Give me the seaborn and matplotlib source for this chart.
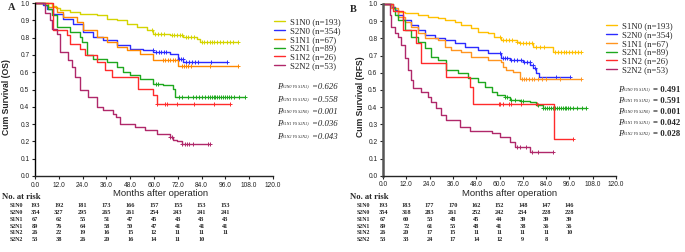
import numpy as np
import matplotlib
matplotlib.use('Agg')
import matplotlib.pyplot as plt
import matplotlib.transforms as mtransforms
from matplotlib.lines import Line2D
import seaborn as sns

# ---- data ----
groups = ['S1N0', 'S2N0', 'S1N1', 'S2N1', 'S1N2', 'S2N2']
group_n = [193, 354, 67, 89, 26, 53]

# Panel A: overall survival (step curves: time in months, survival)
os_t = {
    'S1N0': [0, 8.4, 10.5, 12.6, 17.6, 22.7, 31.1, 36.2, 41.2, 46.2, 51.3, 56.3, 59.7, 68.1, 74.8, 81.5, 83.2, 102.5],
    'S2N0': [0, 4.2, 5.9, 9.2, 14.3, 19.3, 24.4, 29.4, 34.5, 41.2, 48, 54.7, 59.7, 68, 72, 74.8, 96.7],
    'S1N1': [0, 6.7, 10.9, 14.3, 21, 24.4, 31.1, 36.2, 41.2, 46.2, 53, 59.7, 72.3, 102.5],
    'S2N1': [0, 5, 6.7, 8.4, 10.9, 17.6, 22.7, 23.5, 26, 29.4, 36.2, 41.2, 44.6, 48, 53, 59.7, 64.7, 69.7, 70.6, 105.9],
    'S1N2': [0, 9.2, 16, 17.6, 22.7, 25.2, 31.1, 35.3, 38.7, 52.1, 59.7, 61.4, 98.3],
    'S2N2': [0, 5, 7.6, 8.4, 10.9, 12.6, 16.8, 18.5, 20.2, 22.7, 26.9, 31.1, 34.5, 39.5, 40.8, 42.9, 50.4, 55.5, 61.4, 68.1, 69.7, 71.4, 74, 88.2],
}
os_s = {
    'S1N0': [1.0, 0.985, 0.97, 0.958, 0.948, 0.939, 0.929, 0.91, 0.90, 0.881, 0.862, 0.842, 0.823, 0.813, 0.804, 0.794, 0.775, 0.775],
    'S2N0': [1.0, 0.987, 0.967, 0.939, 0.91, 0.881, 0.833, 0.804, 0.784, 0.755, 0.736, 0.727, 0.717, 0.707, 0.678, 0.659, 0.659],
    'S1N1': [1.0, 0.975, 0.948, 0.92, 0.89, 0.842, 0.804, 0.775, 0.746, 0.727, 0.707, 0.669, 0.637, 0.637],
    'S2N1': [1.0, 0.987, 0.967, 0.929, 0.862, 0.833, 0.804, 0.775, 0.698, 0.679, 0.659, 0.63, 0.601, 0.582, 0.563, 0.534, 0.524, 0.505, 0.457, 0.457],
    'S1N2': [1.0, 0.842, 0.813, 0.765, 0.736, 0.698, 0.659, 0.611, 0.572, 0.505, 0.466, 0.418, 0.418],
    'S2N2': [1.0, 0.94, 0.9, 0.852, 0.823, 0.717, 0.669, 0.63, 0.572, 0.495, 0.457, 0.399, 0.38, 0.36, 0.341, 0.303, 0.283, 0.264, 0.245, 0.225, 0.21, 0.2, 0.183, 0.183],
}
os_censor = {
    'S1N0': [59, 60.5, 62, 63.5, 65, 69, 70, 71.5, 73, 74, 76, 77, 78.5, 80, 84, 85, 86.5, 88, 89, 90.5, 92, 93.5, 95, 97, 98.5, 100, 102.5],
    'S2N0': [59.5, 61, 62.5, 63.5, 65, 66, 72.5, 73.5, 74.5, 76, 77.5, 79, 80.5, 82, 88.5, 96.7],
    'S1N1': [64.5, 65.5, 67, 68, 69.5, 70.5, 74, 75, 76, 77, 78.5, 88.3, 102.5],
    'S2N1': [61, 62, 72.5, 74, 77, 79.5, 81, 82.5, 84, 85.5, 87, 88, 89, 90, 91, 92, 93, 94, 95, 96, 97, 98, 99, 100.5, 103, 105.9],
    'S1N2': [61.4, 65.6, 66.4, 71.4, 80.2, 90.3, 98.3],
    'S2N2': [68.1, 69, 74.3, 75.6, 76.8, 77.7, 79.7, 87, 88.2],
}

# Panel B: recurrence-free survival
rfs_t = {
    'S1N0': [0, 4.3, 6, 7.7, 11.1, 18, 23.1, 28.3, 31.7, 36.9, 40.3, 45.4, 48.9, 54, 57.4, 60.9, 68.8, 70.5, 77.3, 87.6, 102],
    'S2N0': [0, 4.3, 6, 7.7, 10.3, 14.6, 18, 21.4, 26.6, 31.7, 36.9, 42, 48.9, 54, 60.9, 65.3, 72.2, 75.6, 77.3, 79, 80.4, 96.2],
    'S1N1': [0, 4.3, 7.7, 11.1, 14.6, 18, 21.4, 28.3, 31.7, 35.1, 40.3, 45.4, 54, 60.9, 61.9, 63.6, 67, 70.5, 102],
    'S2N1': [0, 5.1, 6, 7.7, 11.1, 14.6, 18, 21.4, 24.9, 28.3, 32.6, 38.6, 43.7, 48.9, 52.3, 55.9, 58.5, 62.8, 65.3, 70.5, 75.6, 79, 82.5, 104.8],
    'S1N2': [0, 5.1, 10.3, 17.1, 19.7, 32.6, 44.6, 46.1, 88, 97.9],
    'S2N2': [0, 3.4, 4.3, 6, 7.7, 9.4, 11.1, 12.9, 14.6, 15.4, 19.7, 23.1, 24.9, 27.4, 30, 32.6, 39.6, 44.8, 55.9, 60.2, 65.3, 67.9, 75.6, 87.6],
}
rfs_s = {
    'S1N0': [1.0, 0.984, 0.965, 0.955, 0.946, 0.936, 0.926, 0.917, 0.907, 0.897, 0.878, 0.858, 0.839, 0.829, 0.81, 0.79, 0.781, 0.771, 0.751, 0.722, 0.722],
    'S2N0': [1.0, 0.985, 0.965, 0.936, 0.907, 0.878, 0.849, 0.82, 0.8, 0.79, 0.771, 0.751, 0.732, 0.713, 0.683, 0.674, 0.664, 0.645, 0.625, 0.596, 0.573, 0.573],
    'S1N1': [1.0, 0.975, 0.926, 0.897, 0.868, 0.829, 0.8, 0.79, 0.751, 0.732, 0.722, 0.693, 0.674, 0.664, 0.635, 0.616, 0.606, 0.563, 0.563],
    'S2N1': [1.0, 0.975, 0.936, 0.907, 0.849, 0.81, 0.781, 0.742, 0.693, 0.674, 0.616, 0.596, 0.567, 0.548, 0.518, 0.49, 0.47, 0.46, 0.44, 0.435, 0.427, 0.41, 0.392, 0.392],
    'S1N2': [1.0, 0.962, 0.849, 0.771, 0.655, 0.577, 0.518, 0.42, 0.212, 0.212],
    'S2N2': [1.0, 0.936, 0.868, 0.829, 0.81, 0.761, 0.683, 0.616, 0.557, 0.509, 0.489, 0.46, 0.431, 0.392, 0.353, 0.324, 0.285, 0.262, 0.247, 0.227, 0.198, 0.169, 0.14, 0.14],
}
rfs_censor = {
    'S1N0': [60.5, 62, 63.5, 65, 66.5, 69, 70.5, 72, 73.5, 75, 76.5, 79, 81, 83, 88.5, 90, 91.5, 93, 94.5, 96, 97.5, 99, 100.5, 102],
    'S2N0': [60.5, 62, 63, 64, 66, 67.5, 69, 71, 72.5, 74, 75.5, 77, 78.5, 89.3, 96.2],
    'S1N1': [71.5, 72.5, 73.5, 75, 76.5, 78, 80, 82, 84, 91, 102],
    'S2N1': [63, 64, 66, 68, 71, 72, 80, 82.5, 83.5, 84.5, 85.5, 86.5, 87.5, 88.5, 89.5, 90.5, 91.5, 92.5, 93.5, 94.5, 95.5, 96.5, 98, 100, 102.5, 104.8],
    'S1N2': [59.8, 60.5, 61.6, 65, 65.7, 71.3, 79.4, 97.9],
    'S2N2': [68.8, 70.5, 73.9, 76.5, 79.9, 87.6],
}

# numbers at risk
risk_months = [0, 12, 24, 36, 48, 60, 72, 84, 96]
os_risk = {
    'S1N0': [193, 192, 181, 173, 166, 157, 155, 153, 153],
    'S2N0': [354, 327, 295, 265, 261, 254, 243, 241, 241],
    'S1N1': [67, 62, 55, 51, 47, 45, 43, 43, 43],
    'S2N1': [89, 76, 64, 58, 50, 47, 41, 41, 41],
    'S1N2': [26, 22, 19, 16, 15, 12, 11, 11, 11],
    'S2N2': [53, 38, 26, 20, 16, 14, 11, 10],
}
rfs_risk = {
    'S1N0': [193, 183, 177, 170, 162, 152, 148, 147, 146],
    'S2N0': [354, 318, 283, 261, 252, 242, 234, 228, 228],
    'S1N1': [67, 60, 53, 48, 45, 44, 39, 39, 39],
    'S2N1': [89, 72, 61, 55, 48, 41, 38, 36, 36],
    'S1N2': [26, 20, 17, 15, 11, 11, 11, 11, 10],
    'S2N2': [53, 33, 24, 17, 14, 12, 9, 8],
}

p_pairs = ['S2N0 VS S1N1', 'S2N1 VS S1N2', 'S1N0 VS S2N0', 'S1N1 VS S2N1', 'S1N2 VS S2N2']
os_p = ['0.626', '0.558', '0.001', '0.036', '0.043']
rfs_p = ['0.491', '0.591', '0.001', '0.042', '0.028']

colors_a = ['#d4d400', '#2b2bff', '#ff8800', '#1ea81e', '#ff2b2b', '#b0286a']
colors_b = ['#ffc000', '#2b2bff', '#ff9520', '#1ea81e', '#ff2b2b', '#b0286a']

# ---- style ----
sns.set_style('ticks')
plt.rcParams['font.family'] = ['Liberation Sans', 'DejaVu Sans']

W, H = 685, 252
fig = plt.figure(figsize=(W / 100, H / 100), dpi=100)


def fx(px):
    return px / W


def fy(py):
    return 1 - py / H


def draw_panel(ax, times, surv, censor, colors, thick=False):
    for g, c in zip(groups, colors):
        t = np.array(times[g])
        s = np.array(surv[g])
        sns.lineplot(x=t, y=s, ax=ax, color=c, lw=1.0, drawstyle='steps-post',
                     estimator=None, legend=False)
        ct = np.array(censor[g])
        cs = s[np.searchsorted(t, ct, side='right') - 1]
        ax.plot(ct, cs, ls='none', marker='+', ms=3.2, mew=0.7, color=c)
    for ln in ax.lines:
        ln.set_clip_on(False)
    ax.set_xlim(0, 120)
    ax.set_ylim(0, 1.0)
    ax.set_xticks(np.arange(0, 121, 12))
    ax.set_xticklabels([f'{v:.1f}' for v in np.arange(0, 121, 12)])
    ax.set_yticks(np.arange(0, 1.01, 0.1))
    ax.set_yticklabels([f'{v:.1f}' for v in np.arange(0, 1.01, 0.1)])
    ax.tick_params(labelsize=4.8, length=2.5, width=0.8, pad=1.5, colors='#222222')
    ax.set_xlabel('')
    ax.set_ylabel('')
    sns.despine(ax=ax)
    lw = 1.8 if thick else 1.0
    col = '#555555' if thick else 'black'
    ax.spines['left'].set_linewidth(lw)
    ax.spines['left'].set_color(col)
    ax.spines['bottom'].set_linewidth(1.0)


axA = fig.add_axes([fx(35), fy(176), fx(238), 173 / H])
axB = fig.add_axes([fx(383), fy(175.7), fx(233), 171.7 / H])

draw_panel(axA, os_t, os_s, os_censor, colors_a)
draw_panel(axB, rfs_t, rfs_s, rfs_censor, colors_b, thick=True)

# panel letters
fig.text(fx(8), fy(8), 'A', fontsize=7.5, fontweight='bold', family='Liberation Serif', va='center')
fig.text(fx(350), fy(10), 'B', fontsize=7.5, fontweight='bold', family='Liberation Serif', va='center')

# axis titles
fig.text(fx(7), fy(97), 'Cum Survival (OS)', rotation=90, fontsize=6.2, fontweight='bold',
         ha='center', va='center')
fig.text(fx(361), fy(97), 'Cum Survival (RFS)', rotation=90, fontsize=6.2, fontweight='bold',
         ha='center', va='center')
fig.text(fx(161), fy(193), 'Months after operation', fontsize=6.8, ha='center', va='center')
fig.text(fx(510), fy(193), 'Months after operation', fontsize=6.8, ha='center', va='center')

# legends
for colors, anchor in [(colors_a, (fx(274), fy(18))), (colors_b, (fx(606), fy(22)))]:
    handles = [Line2D([], [], color=c, lw=1.0) for c in colors]
    labels = [f'{g} (n={n})' for g, n in zip(groups, group_n)]
    fig.legend(handles, labels, loc='upper left', bbox_to_anchor=anchor, frameon=False,
               prop={'family': 'Liberation Serif', 'size': 6.3}, handlelength=1.3,
               handletextpad=0.5, labelspacing=0.08, borderpad=0, borderaxespad=0)


# p-values: italic P, tiny subscript, then the value
def p_label(x, y, pair, value, weight, style, eq):
    serif = 'Liberation Serif'
    fig.text(fx(x), fy(y), 'P', fontsize=6.5, style='italic', family=serif,
             va='baseline')
    fig.text(fx(x + 4), fy(y - 2), f'({pair})', fontsize=3.0, style='italic',
             family=serif, va='baseline')
    fig.text(fx(x + 35), fy(y), eq + value, fontsize=6.3, style=style, fontweight=weight,
             family=serif, va='baseline')


p_y_a = [89, 102, 114, 126, 139]
p_y_b = [92, 103, 114, 125, 136]
for pair, p, y in zip(p_pairs, os_p, p_y_a):
    p_label(277, y, pair, p, 'normal', 'italic', '=')
for pair, p, y in zip(p_pairs, rfs_p, p_y_b):
    p_label(618, y, pair, p, 'bold', 'normal', '= ')

# risk tables
row_y = [205.7, 212.7, 219.4, 226.2, 233, 239.8]
for ax, risk, head_x, lab_x in [(axA, os_risk, 2, 10), (axB, rfs_risk, 350, 357)]:
    tr = mtransforms.blended_transform_factory(ax.transData, fig.transFigure)
    fig.text(fx(head_x), fy(197), 'No. at risk', fontsize=6.2, fontweight='bold',
             family='Liberation Serif', va='center')
    for g, y in zip(groups, row_y):
        fig.text(fx(lab_x), fy(y), g, fontsize=4.2, fontweight='bold',
                 family='Liberation Serif', va='center')
        for m, v in zip(risk_months, risk[g]):
            ax.text(m, fy(y), str(v), transform=tr, fontsize=4.5, fontweight='bold',
                    family='Liberation Serif', ha='center', va='center', clip_on=False)

fig.savefig('out.png', dpi=100)
